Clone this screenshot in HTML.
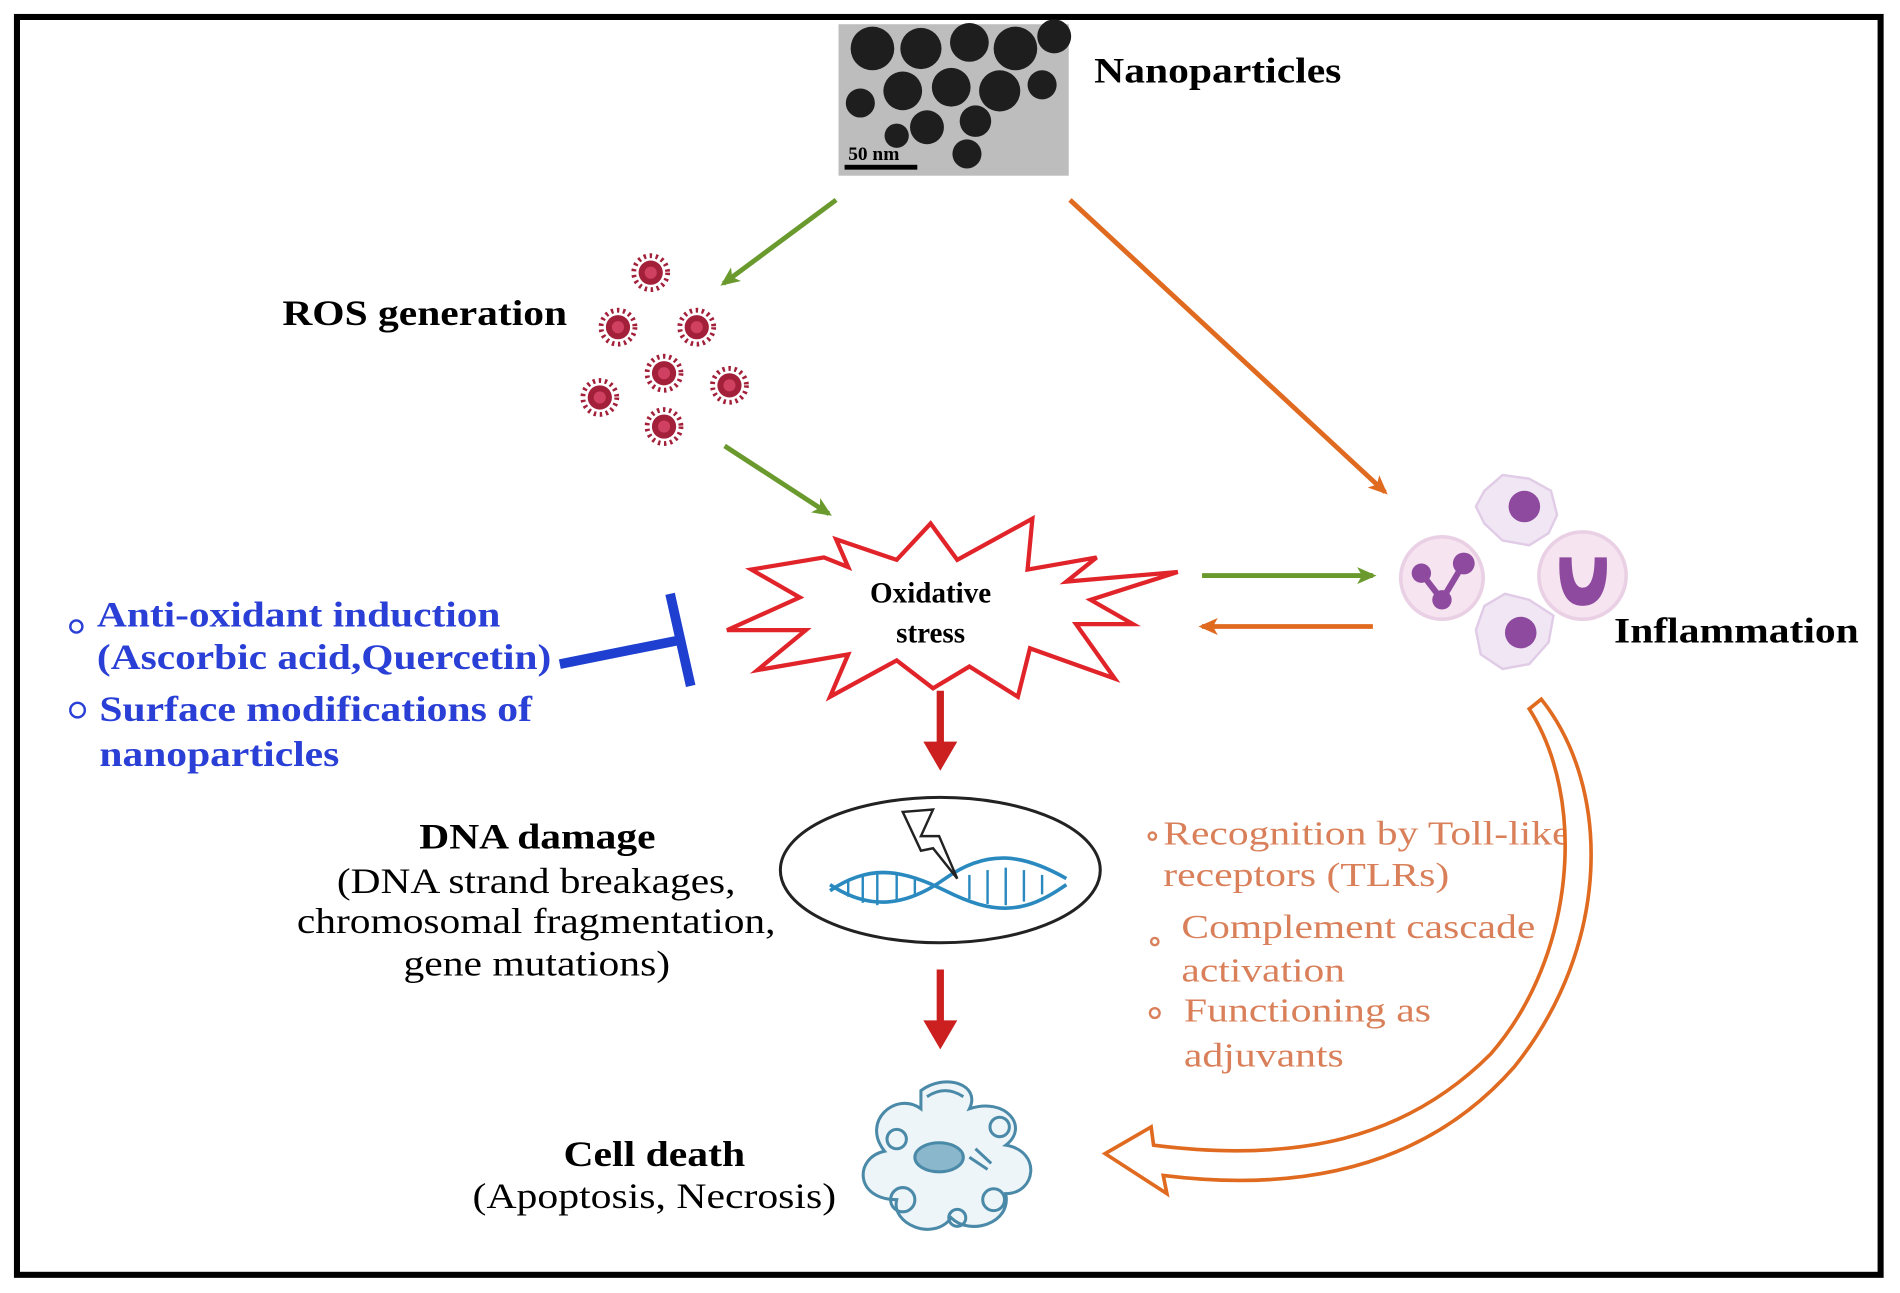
<!DOCTYPE html>
<html><head><meta charset="utf-8"><style>
html,body{margin:0;padding:0;background:#fff;}
svg{display:block;}
text{font-family:"Liberation Serif",serif;}
</style></head><body>
<svg width="1900" height="1293" viewBox="0 0 1568 1067" preserveAspectRatio="none" xmlns="http://www.w3.org/2000/svg">
<defs>
<marker id="ag" markerWidth="16" markerHeight="14" refX="13" refY="7" orient="auto" markerUnits="userSpaceOnUse" viewBox="0 0 16 14"><path d="M0,0 L16,7 L0,14 L4,7z" fill="#6a9a2e"/></marker>
<marker id="ao" markerWidth="16" markerHeight="14" refX="13" refY="7" orient="auto" markerUnits="userSpaceOnUse" viewBox="0 0 16 14"><path d="M0,0 L16,7 L0,14 L4,7z" fill="#e06a1f"/></marker>
<g id="ros"><circle r="10" fill="#a3203a"/><circle r="14" fill="none" stroke="#a3203a" stroke-width="4" stroke-dasharray="2 3"/><circle r="5" fill="#d04060"/></g>
</defs>
<rect x="14" y="14" width="1538" height="1038" fill="#fff" stroke="#000" stroke-width="5"/>
<rect x="692" y="20" width="190" height="125" fill="#bdbdbd"/>
<g fill="#1e1e1e">
<circle cx="720" cy="40" r="18"/><circle cx="760" cy="40" r="17"/><circle cx="800" cy="35" r="16"/><circle cx="838" cy="40" r="18"/><circle cx="870" cy="30" r="14"/>
<circle cx="745" cy="75" r="16"/><circle cx="785" cy="72" r="16"/><circle cx="825" cy="75" r="17"/><circle cx="860" cy="70" r="12"/>
<circle cx="710" cy="85" r="12"/><circle cx="765" cy="105" r="14"/><circle cx="805" cy="100" r="13"/><circle cx="740" cy="112" r="10"/><circle cx="798" cy="127" r="12"/>
</g>
<rect x="697" y="136" width="60" height="4" fill="#000"/>
<text x="700" y="132" font-size="16" font-weight="bold" fill="#000">50 nm</text>
<text x="903" y="68" font-size="30" font-weight="bold" textLength="204" lengthAdjust="spacingAndGlyphs">Nanoparticles</text>
<line x1="690" y1="165" x2="597" y2="234" stroke="#6a9a2e" stroke-width="4" marker-end="url(#ag)"/>
<line x1="883" y1="165" x2="1143" y2="406" stroke="#e06a1f" stroke-width="4" marker-end="url(#ao)"/>
<text x="233" y="268" font-size="30" font-weight="bold" textLength="235" lengthAdjust="spacingAndGlyphs">ROS generation</text>
<use href="#ros" x="537" y="225"/><use href="#ros" x="510" y="270"/><use href="#ros" x="575" y="270"/><use href="#ros" x="548" y="308"/><use href="#ros" x="495" y="328"/><use href="#ros" x="602" y="318"/><use href="#ros" x="548" y="352"/>
<line x1="598" y1="368" x2="684" y2="424" stroke="#6a9a2e" stroke-width="4" marker-end="url(#ag)"/>
<path d="M680,460 L700,468 L690,445 L740,462 L768,432 L790,462 L852,428 L848,470 L905,460 L880,480 L972,472 L900,495 L935,515 L888,515 L920,560 L850,535 L840,575 L800,550 L770,568 L740,545 L685,575 L700,540 L625,553 L665,520 L600,520 L660,493 L620,470z" fill="#fff" stroke="#e0242a" stroke-width="3.5" stroke-linejoin="miter"/>
<text x="768" y="497" font-size="24" font-weight="bold" text-anchor="middle">Oxidative</text>
<text x="768" y="530" font-size="24" font-weight="bold" text-anchor="middle">stress</text>
<line x1="992" y1="475" x2="1133" y2="475" stroke="#6a9a2e" stroke-width="4" marker-end="url(#ag)"/>
<line x1="1133" y1="517" x2="992" y2="517" stroke="#e06a1f" stroke-width="4" marker-end="url(#ao)"/>
<path d="M1225,405 L1240,392 L1262,395 L1280,405 L1285,425 L1278,440 L1262,450 L1240,446 L1225,432 L1218,418z" fill="#f1e6f3" stroke="#e0cce6" stroke-width="2"/>
<circle cx="1258" cy="418" r="13" fill="#8e4a9e"/>
<path d="M1225,500 L1242,490 L1262,495 L1282,508 L1278,530 L1262,548 L1240,552 L1222,540 L1218,520z" fill="#f1e6f3" stroke="#e0cce6" stroke-width="2"/>
<circle cx="1255" cy="522" r="13" fill="#8e4a9e"/>
<circle cx="1190" cy="477" r="34" fill="#f6e4f0" stroke="#ead0e4" stroke-width="3"/>
<circle cx="1173" cy="473" r="8" fill="#8e4a9e"/><circle cx="1208" cy="465" r="9" fill="#8e4a9e"/><circle cx="1190" cy="495" r="8" fill="#8e4a9e"/>
<path d="M1173,473 L1190,495 L1208,465" fill="none" stroke="#8e4a9e" stroke-width="5"/>
<circle cx="1306" cy="475" r="36" fill="#f6e4f0" stroke="#ead0e4" stroke-width="3"/>
<path d="M1287,460 Q1285,500 1306,500 Q1328,500 1326,460 L1316,460 Q1316,485 1306,485 Q1297,485 1297,460z" fill="#8e4a9e"/>
<text x="1332" y="530" font-size="30" font-weight="bold" textLength="202" lengthAdjust="spacingAndGlyphs">Inflammation</text>
<g fill="#2a3fd6" font-size="30" font-weight="bold">
<text x="80" y="517" textLength="333" lengthAdjust="spacingAndGlyphs">Anti-oxidant induction</text>
<text x="80" y="552" textLength="375" lengthAdjust="spacingAndGlyphs">(Ascorbic acid,Quercetin)</text>
<text x="82" y="595" textLength="357" lengthAdjust="spacingAndGlyphs">Surface modifications of</text>
<text x="82" y="632" textLength="198" lengthAdjust="spacingAndGlyphs">nanoparticles</text>
</g>
<circle cx="63" cy="517" r="5" fill="none" stroke="#2a3fd6" stroke-width="2"/>
<circle cx="64" cy="586" r="6" fill="none" stroke="#2a3fd6" stroke-width="2"/>
<line x1="462" y1="548" x2="562" y2="528" stroke="#1f3fd0" stroke-width="8"/>
<line x1="553" y1="490" x2="570" y2="566" stroke="#1f3fd0" stroke-width="8"/>
<line x1="776" y1="570" x2="776" y2="615" stroke="#cc1f1f" stroke-width="6"/><path d="M762,612 L790,612 L776,636z" fill="#cc1f1f"/>
<line x1="776" y1="800" x2="776" y2="845" stroke="#cc1f1f" stroke-width="6"/><path d="M762,842 L790,842 L776,866z" fill="#cc1f1f"/>
<ellipse cx="776" cy="718" rx="132" ry="60" fill="#fff" stroke="#222" stroke-width="2.5"/>
<path d="M685,735 C715,715 740,715 780,735 S845,755 880,730" fill="none" stroke="#2a8ac0" stroke-width="3"/>
<path d="M685,730 C715,750 745,750 780,725 S845,705 880,725" fill="none" stroke="#2a8ac0" stroke-width="3"/>
<g stroke="#2a8ac0" stroke-width="2"><line x1="700" y1="726" x2="700" y2="740"/><line x1="712" y1="722" x2="712" y2="745"/><line x1="724" y1="720" x2="724" y2="747"/><line x1="740" y1="722" x2="740" y2="744"/><line x1="755" y1="726" x2="755" y2="740"/><line x1="800" y1="722" x2="800" y2="742"/><line x1="815" y1="718" x2="815" y2="746"/><line x1="830" y1="716" x2="830" y2="747"/><line x1="845" y1="718" x2="845" y2="744"/><line x1="860" y1="722" x2="860" y2="738"/></g>
<path d="M745,670 L770,668 L760,690 L775,690 L790,725 L770,700 L760,702z" fill="#fff" stroke="#222" stroke-width="2"/>
<g font-size="30">
<text x="346" y="700" font-weight="bold" textLength="195" lengthAdjust="spacingAndGlyphs">DNA damage</text>
<text x="278" y="737" textLength="329" lengthAdjust="spacingAndGlyphs">(DNA strand breakages,</text>
<text x="245" y="770" textLength="395" lengthAdjust="spacingAndGlyphs">chromosomal fragmentation,</text>
<text x="333" y="805" textLength="220" lengthAdjust="spacingAndGlyphs">gene mutations)</text>
<text x="465" y="962" font-weight="bold" textLength="150" lengthAdjust="spacingAndGlyphs">Cell death</text>
<text x="390" y="997" textLength="300" lengthAdjust="spacingAndGlyphs">(Apoptosis, Necrosis)</text>
</g>
<g fill="none" stroke="#4a8aa8" stroke-width="2.5">
<path d="M760,900 C780,885 810,895 800,915 C830,905 850,930 830,945 C860,950 855,985 830,985 C835,1010 800,1020 785,1005 C770,1025 735,1010 740,990 C705,990 705,955 730,950 C710,925 740,900 760,915z" fill="#eef5f8"/>
<ellipse cx="775" cy="955" rx="20" ry="12" fill="#8ab7cc"/>
<circle cx="745" cy="990" r="10"/><circle cx="820" cy="990" r="9"/><circle cx="740" cy="940" r="8"/><circle cx="825" cy="930" r="8"/><circle cx="790" cy="1005" r="7"/>
<path d="M765,905 Q780,895 795,905"/><path d="M800,955 L815,965 M805,948 L818,960"/>
</g>
<g fill="#d9805a" font-size="28">
<text x="960" y="697" textLength="336" lengthAdjust="spacingAndGlyphs">Recognition by Toll-like</text>
<text x="960" y="731" textLength="236" lengthAdjust="spacingAndGlyphs">receptors (TLRs)</text>
<text x="975" y="774" textLength="292" lengthAdjust="spacingAndGlyphs">Complement cascade</text>
<text x="975" y="810" textLength="135" lengthAdjust="spacingAndGlyphs">activation</text>
<text x="977" y="843" textLength="204" lengthAdjust="spacingAndGlyphs">Functioning as</text>
<text x="977" y="880" textLength="132" lengthAdjust="spacingAndGlyphs">adjuvants</text>
</g>
<g fill="none" stroke="#d9805a" stroke-width="2"><circle cx="951" cy="690" r="3"/><circle cx="953" cy="777" r="3"/><circle cx="953" cy="836" r="4"/></g>
<path d="M1262,585 L1272,577 C1330,650 1330,780 1250,880 C1180,960 1080,985 960,970 L963,985 L912,952 L950,930 L952,945 C1070,960 1160,940 1230,870 C1300,790 1310,660 1262,585z" fill="#fff" stroke="#e06a1f" stroke-width="3" stroke-linejoin="miter"/>
</svg>
</body></html>
